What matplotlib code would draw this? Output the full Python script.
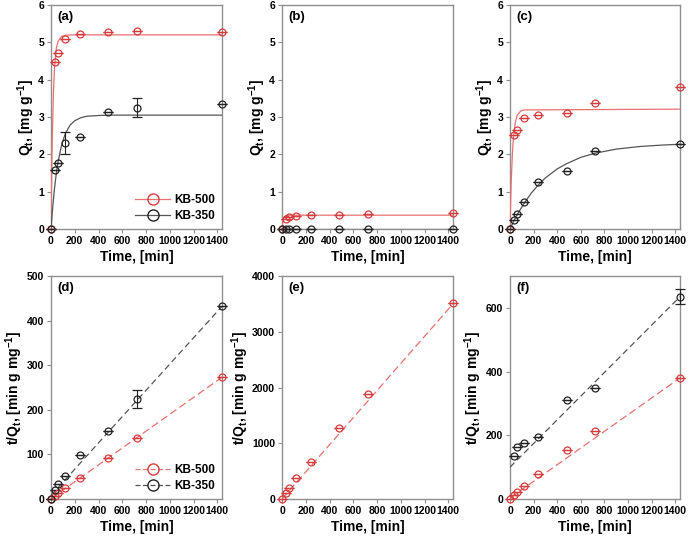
import matplotlib
matplotlib.use('Agg')
import matplotlib.pyplot as plt
from matplotlib.lines import Line2D

plt.rcParams['font.family'] = ['Liberation Sans', 'DejaVu Sans']
plt.rcParams['font.weight'] = 'bold'
plt.rcParams['mathtext.fontset'] = 'custom'
plt.rcParams['mathtext.rm'] = 'Liberation Sans:bold'
plt.rcParams['mathtext.it'] = 'Liberation Sans:bold'
plt.rcParams['mathtext.bf'] = 'Liberation Sans:bold'

# sampling times [min]
time = [0, 30, 60, 120, 240, 480, 720, 1440]

# (a) Qt
a_500 = [0, 4.48, 4.71, 5.09, 5.21, 5.29, 5.30, 5.28]
a_350 = [0, 1.58, 1.78, 2.31, 2.47, 3.13, 3.25, 3.34]
a_350_err = [0, 0, 0, 0.29, 0, 0, 0.26, 0]
# (b) Qt
b_500 = [0, 0.27, 0.32, 0.34, 0.37, 0.37, 0.39, 0.42]
b_350 = [0, 0, 0, 0, 0, 0, 0, 0]
# (c) Qt
c_500 = [0, 2.51, 2.66, 2.96, 3.05, 3.11, 3.37, 3.80]
c_350 = [0, 0.23, 0.40, 0.71, 1.26, 1.55, 2.09, 2.28]

# fitted curves (pseudo-first-order)
fa_500_t = [0, 5, 10, 20, 30, 45, 60, 90, 120, 180, 1440]
fa_500_q = [0, 1.3, 2.3, 3.6, 4.35, 4.85, 5.03, 5.16, 5.19, 5.2, 5.2]
fa_350_t = [0, 15, 30, 45, 60, 90, 120, 160, 200, 250, 300, 400, 500, 1440]
fa_350_q = [0, 0.61, 1.10, 1.50, 1.81, 2.26, 2.55, 2.78, 2.90, 2.98, 3.02, 3.04, 3.05, 3.05]
fb_500_t = [0, 5, 10, 20, 30, 60, 120, 1440]
fb_500_q = [0, 0.15, 0.24, 0.32, 0.35, 0.37, 0.37, 0.37]
fb_350_t = [0, 1440]
fb_350_q = [0, 0]
fc_500_t = [0, 5, 10, 20, 30, 45, 60, 90, 120, 1440]
fc_500_q = [0, 0.7, 1.25, 2.0, 2.49, 2.86, 3.04, 3.16, 3.19, 3.21]
fc_350_t = [0, 30, 60, 120, 180, 240, 300, 400, 480, 600, 720, 900, 1100, 1300, 1440]
fc_350_q = [0, 0.20, 0.38, 0.69, 0.96, 1.18, 1.37, 1.61, 1.75, 1.92, 2.03, 2.14, 2.21, 2.25, 2.27]

# (d) t/Qt
d_500 = [0, 6.7, 12.7, 23.6, 46, 91, 136, 273]
d_350 = [0, 19.5, 33.7, 51.6, 98, 153, 224, 432]
d_350_err = [0, 0, 0, 0, 0, 0, 19.5, 0]
# (e) t/Qt
e_500 = [0, 108, 204, 377, 659, 1281, 1880, 3509]
# (f) t/Qt
f_500 = [0, 12, 23, 41, 79, 155, 214, 380]
f_350_time = [30, 60, 120, 240, 480, 720, 1440]
f_350 = [136, 162, 176, 195, 311, 347, 635]
f_350_err = [0, 0, 0, 0, 0, 0, 24]

# linear fits (pseudo-second-order), end points
fit_t = [0, 1440]
fd_500 = [1, 273]
fd_350 = [8, 432]
fe_500 = [0, 3500]
ff_500 = [3, 380]
ff_350 = [100, 635]

RED = '#d63c3c'
RED_LINE = '#e87070'
BLACK = '#222222'
GRAY_LINE = '#555555'
SPINE = '#8f8f8f'

fig = plt.figure(figsize=(6.91, 5.42), dpi=100)
lefts = [51 / 691, 282 / 691, 510 / 691]
widths = [171 / 691, 171 / 691, 170 / 691]
top_row = [(542 - 229) / 542, 224 / 542]
bot_row = [(542 - 499) / 542, 223 / 542]

axes = []
for row in [top_row, bot_row]:
    for l, w in zip(lefts, widths):
        axes.append(fig.add_axes([l, row[0], w, row[1]]))


def pts(ax, x, y, color, err=None):
    if err is None:
        err = [0] * len(x)
    art = ax.errorbar(x, y, yerr=err, fmt='o', ms=5, mfc='none', mec=color,
                      mew=0.9, ecolor=color, elinewidth=0.8, capsize=3.3,
                      capthick=0.8, zorder=4)
    for a in [art.lines[0]] + list(art.lines[1]) + list(art.lines[2]):
        a.set_clip_on(False)
    return art


def style(ax, ylim, yticks, ylabel, tag):
    ax.set_xlim(0, 1440)
    ax.set_ylim(*ylim)
    ax.set_xticks(range(0, 1401, 200))
    ax.set_yticks(yticks)
    for s in ax.spines.values():
        s.set_color(SPINE)
        s.set_linewidth(1.0)
    ax.tick_params(direction='out', length=3, width=0.8, color=SPINE,
                   labelsize=7.5, pad=2)
    for lab in ax.get_xticklabels() + ax.get_yticklabels():
        lab.set_fontweight('bold')
    ax.set_xlabel('Time, [min]', fontsize=10, fontweight='bold', labelpad=3)
    ax.set_ylabel(ylabel, fontsize=10, fontweight='bold', labelpad=1)
    ax.text(0.035, 0.975, tag, transform=ax.transAxes, ha='left', va='top',
            fontsize=9.5, fontweight='bold')


qlab = 'Q$_t$, [mg g$^{-1}$]'
tlab = 't/Q$_t$, [min g mg$^{-1}$]'

# (a)
ax = axes[0]
ax.plot(fa_500_t, fa_500_q, color=RED_LINE, lw=0.9, zorder=3)
ax.plot(fa_350_t, fa_350_q, color=GRAY_LINE, lw=0.9, zorder=3)
pts(ax, time, a_500, RED)
pts(ax, time, a_350, BLACK, a_350_err)
style(ax, (0, 6), range(0, 7), qlab, '(a)')
h = [Line2D([], [], color=RED_LINE, lw=0.9, marker='o', ms=8, mfc='none', mec=RED),
     Line2D([], [], color=GRAY_LINE, lw=0.9, marker='o', ms=8, mfc='none', mec=BLACK)]
ax.legend(h, ['KB-500', 'KB-350'], loc='lower right', frameon=False,
          handlelength=3, handletextpad=0.3, labelspacing=0.35,
          borderaxespad=0.2, prop={'weight': 'bold', 'size': 8.5})

# (b)
ax = axes[1]
ax.plot(fb_500_t, fb_500_q, color=RED_LINE, lw=0.9, zorder=3)
ax.plot(fb_350_t, fb_350_q, color=GRAY_LINE, lw=0.9, zorder=3)
pts(ax, time, b_500, RED)
pts(ax, time, b_350, BLACK)
style(ax, (0, 6), range(0, 7), qlab, '(b)')

# (c)
ax = axes[2]
ax.plot(fc_500_t, fc_500_q, color=RED_LINE, lw=0.9, zorder=3)
ax.plot(fc_350_t, fc_350_q, color=GRAY_LINE, lw=0.9, zorder=3)
pts(ax, time, c_500, RED)
pts(ax, time, c_350, BLACK)
style(ax, (0, 6), range(0, 7), qlab, '(c)')

# (d)
ax = axes[3]
ax.plot(fit_t, fd_350, color=GRAY_LINE, lw=0.9, ls=(0, (5, 3)), zorder=3)
ax.plot(fit_t, fd_500, color=RED_LINE, lw=0.9, ls=(0, (6, 3)), zorder=3)
pts(ax, time, d_500, RED)
pts(ax, time, d_350, BLACK, d_350_err)
style(ax, (0, 500), range(0, 501, 100), tlab, '(d)')
h = [Line2D([], [], color=RED_LINE, lw=0.9, ls=(0, (4, 2)), marker='o', ms=8, mfc='none', mec=RED),
     Line2D([], [], color=GRAY_LINE, lw=0.9, ls=(0, (4, 2)), marker='o', ms=8, mfc='none', mec=BLACK)]
ax.legend(h, ['KB-500', 'KB-350'], loc='lower right', frameon=False,
          handlelength=3, handletextpad=0.3, labelspacing=0.35,
          borderaxespad=0.2, prop={'weight': 'bold', 'size': 8.5})

# (e)
ax = axes[4]
ax.plot(fit_t, fe_500, color=RED_LINE, lw=0.9, ls=(0, (6, 3)), zorder=3)
pts(ax, time, e_500, RED)
style(ax, (0, 4000), range(0, 4001, 1000), tlab, '(e)')

# (f)
ax = axes[5]
ax.plot(fit_t, ff_350, color=GRAY_LINE, lw=0.9, ls=(0, (5, 3)), zorder=3)
ax.plot(fit_t, ff_500, color=RED_LINE, lw=0.9, ls=(0, (6, 3)), zorder=3)
pts(ax, time, f_500, RED)
pts(ax, f_350_time, f_350, BLACK, f_350_err)
style(ax, (0, 700), range(0, 601, 200), tlab, '(f)')

plt.savefig('out.png', dpi=100)
